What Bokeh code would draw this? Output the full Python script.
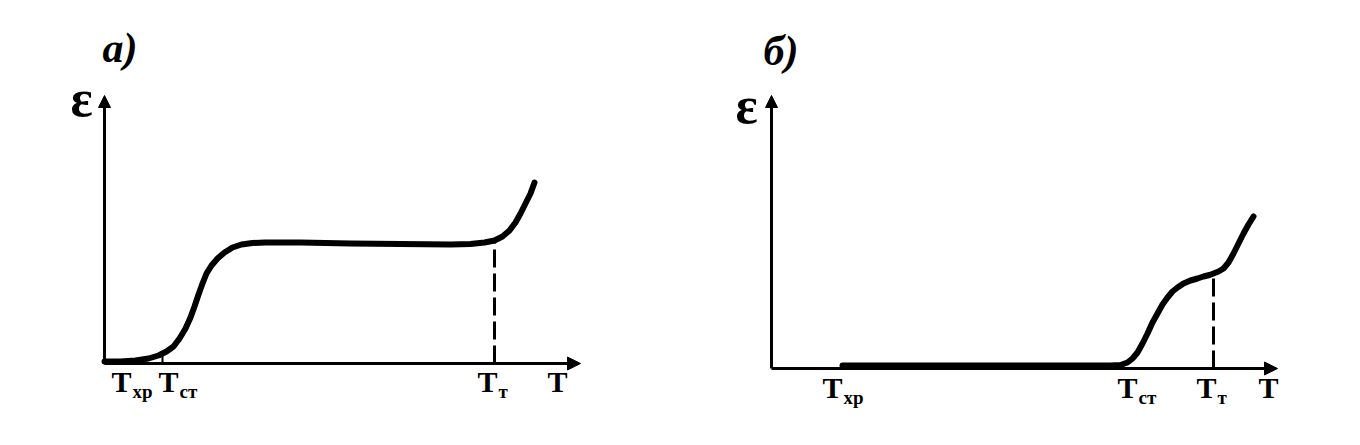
from bokeh.plotting import figure
from bokeh.models import Range1d, Arrow, NormalHead, ColumnDataSource
from bokeh.layouts import row
from bokeh.embed import file_html
from bokeh.resources import INLINE
from bokeh.core.properties import value

# ---------------- data ----------------
# panel а): deformation vs temperature
a_T = [0, 16, 31, 44, 54, 62, 69, 75, 81, 86, 90, 94, 98, 102, 107, 113, 120, 128, 137,
       148, 161, 196, 246, 296, 346, 366, 380, 390, 398, 405, 411, 416, 421, 426, 430]
a_eps = [2, 2, 3, 5, 8, 12, 17, 25, 35, 46, 57, 69, 80, 90, 98, 105, 111, 116, 119,
         120.5, 121, 121, 120, 119.5, 119, 119.5, 121, 123, 127, 133, 141, 150, 160, 170, 181]
a_Tt = [390]
a_Tt_eps = [123]
a_Tct = [58]
a_Tct_eps = [8]
a_axis_end = [476, 268]          # T-axis length, eps-axis length
a_tick_pos = [17, 64, 383, 453]
a_tick_sub = ["хр", "ст", "т", ""]

# panel б)
b_T = [71, 339, 349, 356, 361, 366, 371, 376, 381, 386, 391, 396, 401, 406, 412, 419, 426,
       432, 438, 442, 447, 452, 457, 462, 467, 472, 477, 482]
b_eps = [3, 3, 3.5, 6, 10, 16, 25, 35, 46, 55, 64, 71, 77, 81, 85, 88, 90,
         92, 93.5, 95, 97, 100, 106, 115, 125, 135, 144, 152]
b_Tt = [442]
b_Tt_eps = [95]
b_axis_end = [506, 273]
b_tick_pos = [61, 356, 435, 497]
b_tick_sub = ["хр", "ст", "т", ""]

FONT = value("Liberation Serif")


def panel(title, T, eps, Tt, Tt_eps, axis_end, tick_pos, tick_sub,
          xr, yr, title_xy, eps_xy, tick_base, tct=None, tct_eps=None):
    p = figure(width=672, height=429, x_range=Range1d(*xr), y_range=Range1d(*yr),
               output_backend="svg", toolbar_location=None, min_border=0,
               x_axis_location=None, y_axis_location=None)
    p.grid.visible = False
    p.outline_line_color = None
    p.background_fill_color = "white"
    p.border_fill_color = "white"

    # axes with arrows
    p.add_layout(Arrow(end=NormalHead(size=13, fill_color="black", line_color="black"),
                       x_start=0, y_start=0, x_end=axis_end[0], y_end=0,
                       line_width=3, line_color="black"))
    p.add_layout(Arrow(end=NormalHead(size=12, fill_color="black", line_color="black"),
                       x_start=0, y_start=0, x_end=0, y_end=axis_end[1],
                       line_width=3, line_color="black"))

    # dashed drop line at T_т
    p.segment(x0=Tt, y0=[0] * len(Tt), x1=Tt, y1=Tt_eps, line_color="black",
              line_width=3, line_dash="18 6")
    # small solid mark at T_ст
    if tct is not None:
        p.segment(x0=tct, y0=[0] * len(tct), x1=tct, y1=tct_eps, line_color="black",
                  line_width=2)

    # curve
    p.line(T, eps, line_color="black", line_width=6, line_join="round", line_cap="round")

    # tick labels T with subscripts
    src = ColumnDataSource(dict(x=tick_pos, y=[tick_base] * len(tick_pos),
                                t=["T"] * len(tick_pos), s=tick_sub))
    p.text(x="x", y="y", text="t", source=src, text_font=FONT, text_font_style="bold",
           text_font_size="30px", text_align="center", text_baseline="alphabetic",
           text_color="black")
    p.text(x="x", y="y", text="s", source=src, text_font=FONT, text_font_style="bold",
           text_font_size="19px", text_align="left", text_baseline="alphabetic",
           x_offset=11, y_offset=10, text_color="black")

    # axis label epsilon
    p.text(x=[eps_xy[0]], y=[eps_xy[1]], text=["ε"], text_font=FONT, text_font_style="bold",
           text_font_size="52px", text_align="center", text_baseline="alphabetic",
           text_color="black")
    # panel title
    p.text(x=[title_xy[0]], y=[title_xy[1]], text=[title], text_font=FONT,
           text_font_style="bold italic", text_font_size="42px", text_align="left",
           text_baseline="alphabetic", text_color="black")
    return p


pa = panel("а)", a_T, a_eps, a_Tt, a_Tt_eps, a_axis_end, a_tick_pos, a_tick_sub,
           xr=(-104, 568), yr=(-66, 363), title_xy=(-2, 316), eps_xy=(-23, 265),
           tick_base=-18, tct=a_Tct, tct_eps=a_Tct_eps)
pb = panel("б)", b_T, b_eps, b_Tt, b_Tt_eps, b_axis_end, b_tick_pos, b_tick_sub,
           xr=(-99, 573), yr=(-61, 368), title_xy=(-8, 318), eps_xy=(-25, 263),
           tick_base=-19)

layout = row(pa, pb, spacing=0)
open("out.html", "w").write(file_html(layout, INLINE))
